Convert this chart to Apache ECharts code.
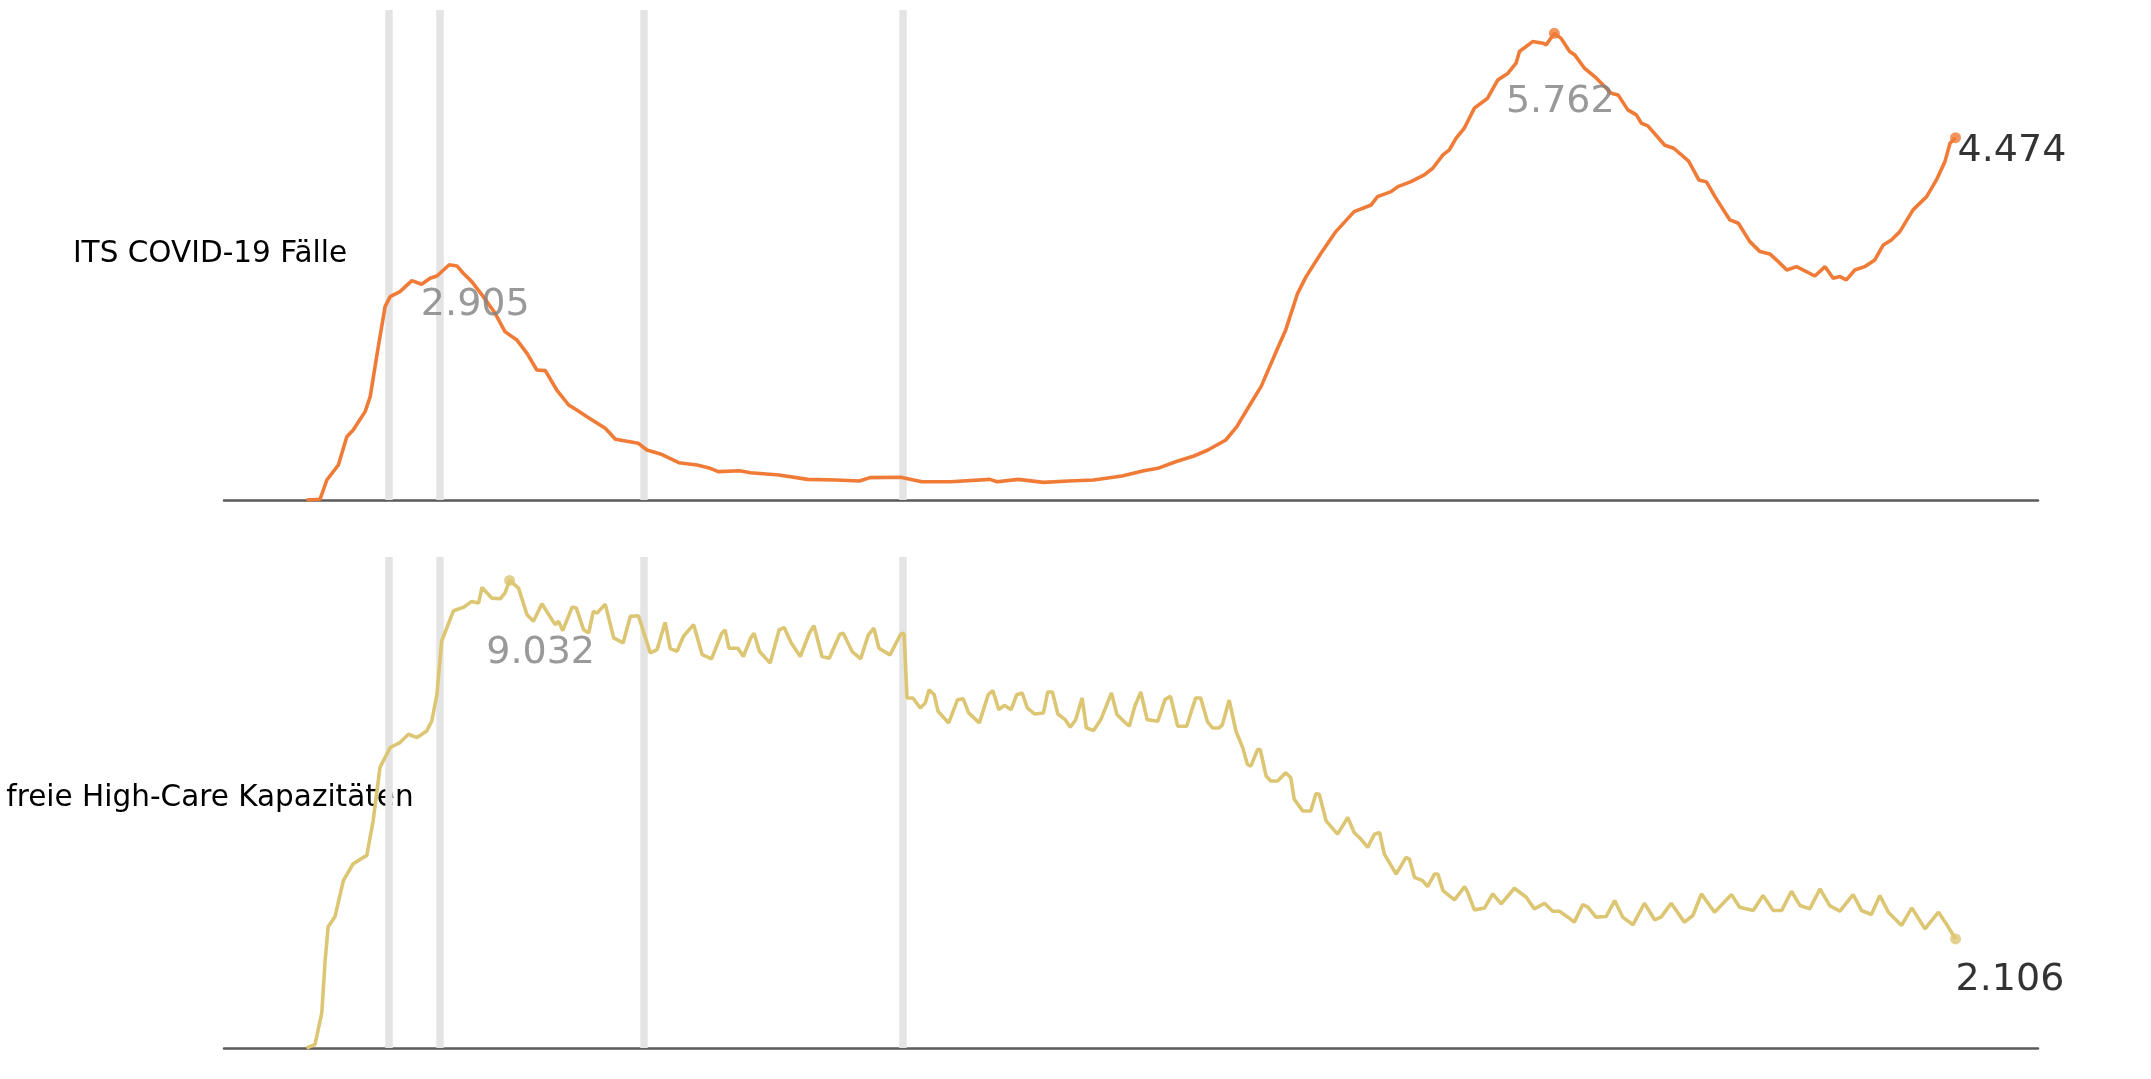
<!DOCTYPE html>
<html>
<head>
<meta charset="utf-8">
<script src="https://cdn.jsdelivr.net/npm/echarts@6/dist/echarts.min.js"></script>
<style>
html,body{margin:0;padding:0;background:#fff;}
#chart{width:2151px;height:1079px;}
</style>
</head>
<body>
<div id="chart"></div>
<script>
// ---- data (day index since start of series) ----
const panelLabels = ['ITS COVID-19 Fälle', 'freie High-Care Kapazitäten'];
const eventDays = [19.3, 31.4, 79.4, 140.2];

const itsDays = [0,3.2,4.8,7.5,9.5,11,13.8,15,16.9,18.5,19.7,22,24.8,27.1,29.1,30.7,33.6,35.4,36.9,38.9,41.6,44.4,46.7,49.5,51.9,54.2,56.2,58.9,61.7,63.6,66,70.3,72.7,78.1,80.1,83.3,87.6,91.9,95,96.9,101.9,104.5,111.2,117.9,124.6,130.1,132.6,139.8,144.8,151.6,160.8,162.5,167.5,173.4,179.3,185.2,191.9,197,200.3,204.5,208.8,212.1,216.3,218.9,222.2,224.6,228.5,230.4,233.2,235.2,238.7,242.2,246.5,250.5,252,255.2,256.8,259.9,263,265,267.4,268.9,270.5,272.4,274.8,277.9,280.3,282.7,284.6,285.4,288.5,290.9,291.7,293.6,295.2,297.2,298.4,300.7,303.1,307,308.6,310.9,312.9,314.1,315.6,319.6,321.7,325.2,327.6,329.4,331.4,334.9,336.9,339.6,342,344.3,346.3,348.3,350.6,354.9,357.3,359.2,360.8,362.3,364.3,366.6,369,371,372.9,374.9,378,381.2,383.5,385.5,386.7,388];
const itsValues = [0,10,247,432,782,864,1091,1276,1893,2387,2511,2573,2709,2664,2738,2766,2905,2890,2800,2696,2511,2305,2079,1976,1811,1605,1597,1358,1173,1111,1029,885,749,700,617,568,461,432,391,350,362,337,309,255,247,235,276,280,226,226,255,226,255,218,235,247,296,362,391,473,543,617,741,906,1194,1400,1873,2100,2552,2758,3046,3314,3561,3643,3746,3808,3869,3931,4014,4096,4261,4323,4467,4590,4838,4961,5187,5270,5393,5537,5660,5640,5620,5762,5700,5537,5496,5331,5228,5022,5002,4817,4755,4652,4619,4380,4343,4185,3952,3928,3746,3458,3417,3190,3067,3038,2943,2840,2881,2766,2881,2738,2759,2717,2840,2881,2964,3149,3211,3314,3582,3746,3952,4178,4405,4474];

const hcDays = [0,2,3.6,4.4,5.1,6.7,8.7,11,14.2,15.7,17.3,19.7,22,24,26,28.3,29.5,30.7,31.8,34.6,36.9,38.9,40.5,41.3,43.6,45.6,46.7,47.8,49.9,51.9,53.4,55.4,58.5,59.3,60.3,62.5,63.5,65.2,66.4,67.5,68.4,70.3,72.3,74.5,76.2,78.1,80.9,82.5,84.4,85.6,87.2,88.7,91.1,93.1,95.3,97.7,98.5,99.4,101.5,102.8,104.5,105.3,106.6,109.1,111.2,112.4,114.1,116.2,118.3,119.4,121.3,123,125.5,126.3,128.4,130.4,132.2,133.5,134.7,137.3,139.8,140.6,141.3,142.7,144.4,145.6,146.5,147.7,148.6,151.1,153.2,154.5,155.8,158.3,160.4,161.5,162.9,164.2,165.8,167.1,168.4,169.6,171.3,173.4,174.4,175.5,176.8,178.5,179.7,181,182.5,183.5,185.2,186.9,189.4,190.7,192.3,193.6,194.9,196.3,197.8,200.3,202,203.3,205,207.1,209.2,210.4,212,213.2,214.7,215.5,217.1,218.7,220.3,221.4,222.2,223.8,224.4,225.8,226.9,228.5,230.4,231.6,232.4,234.4,236.3,237.5,238.3,239.9,242.6,245,246.5,248.1,249.7,251.3,252.5,253.6,256.4,258.7,259.5,260.7,262.6,263.8,265.4,266.2,267.4,270.1,272.5,273.2,274.8,277.2,279.1,281.1,284.2,287,288.9,291.3,293.2,294.8,296.8,298.3,300.3,301.5,303.4,305.8,307.8,309.7,312.1,314.8,317.2,318.7,321.1,324.2,326.2,328.2,331.3,335.3,337.2,340.4,342.7,345.1,347.1,349.4,351.4,353.7,356.1,358.4,360.8,363.9,365.9,368.2,370.2,372.2,375.3,377.7,380.8,384,386.3,388];
const hcValues = [0,64,673,1699,2341,2533,3239,3559,3720,4393,5419,5804,5900,6060,5996,6124,6317,6830,7856,8446,8510,8626,8593,8895,8690,8677,8786,9032,8882,8369,8241,8580,8177,8241,8061,8517,8497,8080,8016,8433,8401,8574,7920,7824,8337,8350,7631,7696,8222,7715,7663,7952,8177,7599,7517,8011,8075,7722,7722,7562,7915,8011,7658,7434,8075,8120,7818,7562,8011,8158,7562,7530,7992,8011,7658,7517,7979,8107,7722,7594,7992,8011,6760,6760,6568,6664,6920,6824,6504,6279,6728,6747,6472,6279,6824,6901,6536,6619,6536,6824,6856,6568,6452,6472,6876,6876,6452,6343,6196,6343,6760,6183,6132,6343,6856,6440,6311,6215,6600,6876,6343,6311,6728,6792,6215,6215,6760,6760,6300,6183,6180,6246,6720,6118,5797,5477,5445,5766,5766,5253,5156,5156,5317,5220,4804,4579,4579,4913,4900,4387,4130,4451,4162,4034,3874,4130,4162,3745,3360,3681,3649,3296,3232,3117,3360,3360,3040,2860,3117,3008,2668,2706,2976,2783,3085,2912,2687,2796,2642,2642,2527,2431,2771,2720,2527,2540,2848,2527,2380,2796,2476,2527,2796,2431,2559,2976,2623,2963,2719,2655,2944,2655,2655,3027,2751,2687,3072,2751,2642,2963,2655,2578,2944,2623,2367,2706,2303,2623,2335,2106];

// ---- helpers ----
const fmt = n => String(n).replace(/\B(?=(\d{3})+(?!\d))/g, '.');
const pairs = (xs, ys) => xs.map((d, i) => [d, ys[i]]);
function argMax(xs, ys, from, to) {
  let best = -1;
  for (let i = 0; i < ys.length; i++) {
    if (xs[i] < from || xs[i] > to) continue;
    if (best < 0 || ys[i] > ys[best]) best = i;
  }
  return best;
}

const ORANGE = '#ef7b37';
const YELLOW = '#dcc674';
const FONT = 'DejaVu Sans';
const lastDay = itsDays[itsDays.length - 1];
const xMin = -0.05 * lastDay, xMax = lastDay * 1.05;
const itsMax = Math.max(...itsValues), hcMax = Math.max(...hcValues);

const itsWave1 = argMax(itsDays, itsValues, 0, 150);
const itsPeak = argMax(itsDays, itsValues, 0, Infinity);
const itsLast = itsValues.length - 1;
const hcPeak = argMax(hcDays, hcValues, 0, Infinity);
const hcLast = hcValues.length - 1;

function annot(days, vals, i, opts) {
  return {
    value: [days[i], vals[i]],
    symbolSize: opts.dot ? 11 : 1,
    itemStyle: { color: opts.dot ? opts.color : 'rgba(0,0,0,0)' },
    label: {
      show: true,
      formatter: fmt(vals[i]),
      position: 'inside',
      align: opts.align,
      verticalAlign: 'middle',
      offset: opts.offset,
      color: opts.textColor,
      fontSize: 38,
      fontFamily: FONT
    }
  };
}

const grids = [
  { left: 224, right: 113, top: 10, height: 490 },
  { left: 224, right: 113, top: 557, height: 491 }
];
function xAxis(gi) {
  return {
    gridIndex: gi, type: 'value', min: xMin, max: xMax,
    axisLine: { show: true, onZero: false, lineStyle: { color: '#5a5a5a', width: 2.5 } },
    axisTick: { show: false }, axisLabel: { show: false }, splitLine: { show: false }
  };
}
function yAxis(gi, max) {
  return {
    gridIndex: gi, type: 'value', min: 0, max: max,
    axisLine: { show: false }, axisTick: { show: false }, axisLabel: { show: false }, splitLine: { show: false }
  };
}
const eventMarkLine = {
  silent: true, z: 1, symbol: ['none', 'none'],
  label: { show: false },
  lineStyle: { color: '#e4e4e4', width: 7.5, type: 'solid' },
  emphasis: { disabled: true },
  data: eventDays.map(d => ({ xAxis: d }))
};
// panel titles sit left of each panel, centred near its middle
const titleLift = [1, 4];
const panelTitles = grids.map((g, i) => ({
  type: 'text',
  x: 210,
  y: g.top + g.height / 2 - titleLift[i],
  style: {
    text: panelLabels[i], fill: '#000', font: '29.5px "DejaVu Sans"',
    textAlign: 'center', textVerticalAlign: 'middle'
  },
  silent: true
}));

const option = {
  animation: false,
  backgroundColor: '#ffffff',
  grid: grids,
  graphic: panelTitles,
  xAxis: [xAxis(0), xAxis(1)],
  yAxis: [yAxis(0, itsMax * 1.05), yAxis(1, hcMax * 1.05)],
  series: [
    {
      type: 'line', xAxisIndex: 0, yAxisIndex: 0, z: 3,
      data: pairs(itsDays, itsValues), showSymbol: false,
      lineStyle: { color: ORANGE, width: 3.6 }, markLine: eventMarkLine
    },
    {
      type: 'line', xAxisIndex: 1, yAxisIndex: 1, z: 3,
      data: pairs(hcDays, hcValues), showSymbol: false,
      lineStyle: { color: YELLOW, width: 3.6 }, markLine: eventMarkLine
    },
    {
      type: 'scatter', xAxisIndex: 0, yAxisIndex: 0, z: 4, silent: true,
      data: [
        annot(itsDays, itsValues, itsWave1, { dot: false, color: ORANGE, align: 'center', offset: [26, 40], textColor: '#808080' }),
        annot(itsDays, itsValues, itsPeak, { dot: true, color: ORANGE, align: 'center', offset: [6, 69], textColor: '#808080' }),
        annot(itsDays, itsValues, itsLast, { dot: true, color: ORANGE, align: 'left', offset: [2, 13], textColor: '#000' })
      ]
    },
    {
      type: 'scatter', xAxisIndex: 1, yAxisIndex: 1, z: 4, silent: true,
      data: [
        annot(hcDays, hcValues, hcPeak, { dot: true, color: YELLOW, align: 'center', offset: [31, 73], textColor: '#808080' }),
        annot(hcDays, hcValues, hcLast, { dot: true, color: YELLOW, align: 'left', offset: [0, 41], textColor: '#000' })
      ]
    }
  ]
};

const chart = echarts.init(document.getElementById('chart'), null, { renderer: 'canvas' });
chart.setOption(option);
</script>
</body>
</html>
